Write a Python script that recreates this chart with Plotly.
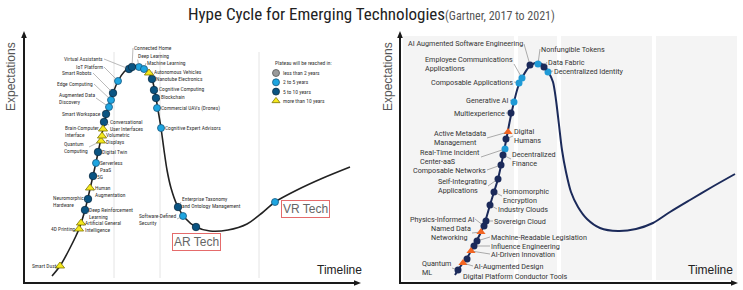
import plotly.graph_objects as go

W, H = 743, 290

# ---------------- data ----------------
title_main = "Hype Cycle for Emerging Technologies"
title_sub = "(Gartner, 2017 to 2021)"
y_title = "Expectations"
x_title = "Timeline"

legend_title = "Plateau will be reached in:"
legend_cats = ["lt2", "2to5", "5to10", "gt10"]
legend_texts = ["less than 2 years", "2 to 5 years", "5 to 10 years", "more than 10 years"]

# left panel (Gartner 2017) : time / expectations
left_curve_t = [28, 36, 46, 55, 61, 66, 71, 75, 79, 83, 88, 94, 100, 106, 113, 119, 124, 128, 131, 134,
                137, 140, 143, 147, 153, 161, 172, 186, 204, 223, 238, 251, 273, 299, 326]
left_curve_e = [7, 17, 35, 54, 73, 94, 116, 135, 154, 171, 187, 202, 211, 215.5, 217.5, 215, 211, 204, 191, 173,
                155, 133, 113, 95, 78, 65, 56, 52, 53, 59, 70, 81, 93, 105, 116]

left_names = ["Smart Dust", "4D Printing", "Artificial General<br>Intelligence", "Deep Reinforcement<br>Learning",
              "Neuromorphic<br>Hardware", "Human<br>Augmentation", "5G", "Serverless<br>PaaS", "Digital Twin",
              "Quantum<br>Computing", "Volumetric<br>Displays", "Brain-Computer<br>Interface",
              "Conversational<br>User Interfaces", "Smart Workspace", "Augmented Data<br>Discovery",
              "Edge Computing", "Smart Robots", "IoT Platform", "Virtual Assistants", "Connected Home",
              "Deep Learning", "Machine Learning", "Autonomous Vehicles", "Nanotube Electronics",
              "Cognitive Computing", "Blockchain", "Commercial UAVs (Drones)", "Cognitive Expert Advisors",
              "Enterprise Taxonomy<br>and Ontology Management", "Software-Defined<br>Security",
              "AR Tech", "VR Tech"]
left_t = [36, 55, 57, 61, 64, 66, 69, 72, 74, 77, 78, 79, 80, 82, 85, 87, 89, 94, 105, 108,
          115, 120, 125, 128, 130, 132, 133, 137, 154, 159, 172, 251]
left_e = [17, 54, 60, 73, 84, 95, 107, 120, 131, 142, 147, 154, 161, 169, 176, 183, 190, 202, 214, 216,
          216, 214, 210, 204, 193, 185, 175, 155, 76, 67, 56, 81]
left_cat = ["gt10", "gt10", "gt10", "5to10", "5to10", "gt10", "5to10", "2to5", "5to10", "gt10", "gt10", "gt10",
            "5to10", "5to10", "2to5", "2to5", "5to10", "2to5", "5to10", "5to10", "2to5", "2to5", "gt10", "5to10",
            "5to10", "5to10", "2to5", "2to5", "5to10", "2to5", "5to10", "2to5"]

# right panel (Gartner 2021)
right_curve_t = [55, 58, 63, 67, 71, 76, 81, 85, 90, 94, 98, 102, 106, 110, 114, 118, 123, 129, 135, 140,
                 145, 149, 153, 156, 159, 162, 166, 171, 178, 187, 200, 218, 236, 253, 270, 290, 312, 335]
right_curve_e = [8, 13, 20, 25, 32, 41, 51, 61, 78, 91, 104, 122, 142, 163, 181, 196, 207, 216, 220, 220,
                 216, 210, 201, 183, 158, 133, 111, 91, 76, 64, 55, 52, 54, 60, 71, 83, 96, 109]

right_names = ["Quantum<br>ML", "AI-Augmented Design", "Digital Platform Conductor Tools", "AI-Driven Innovation",
               "Influence Engineering", "Machine-Readable Legislation", "Named Data<br>Networking",
               "Physics-Informed AI", "Sovereign Cloud", "Industry Clouds", "Homomorphic<br>Encryption",
               "Self-Integrating<br>Applications", "Composable Networks", "Decentralized<br>Finance",
               "Real-Time Incident<br>Center-aaS", "Digital<br>Humans", "Active Metadata<br>Management",
               "Multiexperience", "Generative AI", "Composable Applications",
               "Employee Communications<br>Applications", "AI Augmented Software Engineering",
               "Nonfungible Tokens", "Data Fabric", "Decentralized Identity"]
right_t = [58, 63, 67, 71, 74, 77, 81, 84, 86, 90, 94, 98, 101, 103, 105, 106, 108, 111, 114, 119, 122, 130,
           138, 144, 148]
right_e = [13, 20, 24, 32, 37, 42, 51, 57, 62, 78, 91, 104, 118, 128, 134, 144, 151, 170, 181, 200, 205, 218,
           219, 216, 211]
right_cat = ["5to10", "gt10", "5to10", "gt10", "5to10", "5to10", "gt10", "5to10", "5to10", "5to10", "5to10",
             "5to10", "5to10", "5to10", "2to5", "5to10", "gt10", "5to10", "2to5", "2to5", "2to5", "5to10",
             "2to5", "5to10", "2to5"]

# ---------------- layout helpers / styles ----------------
NARROW = "Liberation Sans Narrow, Arial Narrow, Roboto Condensed, sans-serif"
SANS = "Liberation Sans, Arial, sans-serif"
ROBOTO = "Roboto, Liberation Sans, sans-serif"


def px(x):
    return x / W


def py(y):
    return 1 - y / H


# label placement (pixel offsets from point to text anchor, side of text)
left_label_pos = {
    "Smart Dust": (-2, 0, "l"), "4D Printing": (-3, 0, "l"),
    "Artificial General<br>Intelligence": (3, 3, "r"), "Deep Reinforcement<br>Learning": (3, 3, "r"),
    "Neuromorphic<br>Hardware": (-3, 2, "l"), "Human<br>Augmentation": (4, 3, "r"), "5G": (3, 1, "r"),
    "Serverless<br>PaaS": (3, 3, "r"), "Digital Twin": (3, 0, "r"), "Quantum<br>Computing": (-12, 6, "l"),
    "Volumetric<br>Displays": (3, 2, "r"), "Brain-Computer<br>Interface": (-3, 2, "l"),
    "Conversational<br>User Interfaces": (5, 3, "r"), "Smart Workspace": (-4, 0, "l"),
    "Augmented Data<br>Discovery": (-13, -9, "l"), "Edge Computing": (-17, -16, "l"),
    "Smart Robots": (-20, -20, "l"), "IoT Platform": (-14, -14, "l"), "Virtual Assistants": (-25, -10, "l"),
    "Connected Home": (1, -19, "r"), "Deep Learning": (-2, -11, "r"), "Machine Learning": (2, -6, "r"),
    "Autonomous Vehicles": (4, -1, "r"), "Nanotube Electronics": (3, 0, "r"),
    "Cognitive Computing": (4, -1, "r"), "Blockchain": (4, -1, "r"),
    "Commercial UAVs (Drones)": (3, 0, "r"), "Cognitive Expert Advisors": (3, 0, "r"),
    "Enterprise Taxonomy<br>and Ontology Management": (3, -5, "r"),
    "Software-Defined<br>Security": (-6, 3, "l"),
}
box_label_pos = {"AR Tech": (0, 15, "c"), "VR Tech": (6, 7, "r")}

right_label_pos = {
    "AI Augmented Software Engineering": (-6, -21, "l"), "Nonfungible Tokens": (2, -15, "r"),
    "Data Fabric": (3, -5, "r"), "Decentralized Identity": (5, -1, "r"),
    "Employee Communications<br>Applications": (-8, -14, "l"), "Composable Applications": (-5, -1, "l"),
    "Generative AI": (-4, -2, "l"), "Multiexperience": (-5, 0, "l"),
    "Active Metadata<br>Management": (-21, 6, "l"), "Digital<br>Humans": (7, -3, "r"),
    "Real-Time Incident<br>Center-aaS": (-24, 8, "l"), "Decentralized<br>Finance": (8, 4, "r"),
    "Composable Networks": (-14, 5, "l"), "Self-Integrating<br>Applications": (-10, 7, "l"),
    "Homomorphic<br>Encryption": (8, 4, "r"), "Industry Clouds": (7, 4, "r"),
    "Physics-Informed AI": (-9, -7, "l"), "Sovereign Cloud": (7, 0, "r"),
    "Named Data<br>Networking": (-9, 1, "l"), "Machine-Readable Legislation": (13, -4, "r"),
    "Influence Engineering": (16, 0, "r"), "AI-Driven Innovation": (19, 3, "r"),
    "AI-Augmented Design": (10, 3, "r"), "Quantum<br>ML": (-6, -2, "l"),
    "Digital Platform Conductor Tools": (-5, 17, "r"),
}
no_leader = {"Digital Platform Conductor Tools"}

left_style = {
    "lt2": dict(color="#9a9a9a", symbol="circle", size=7, line=dict(color="#555", width=0.8)),
    "2to5": dict(color="#1ea5e0", symbol="circle", size=7, line=dict(color="#17587f", width=0.8)),
    "5to10": dict(color="#0a5482", symbol="circle", size=7.5, line=dict(color="#0b2d45", width=0.8)),
    "gt10": dict(color="#f5e81c", symbol="triangle-up", size=8, line=dict(color="#7d7300", width=0.8)),
}
right_style = {
    "2to5": dict(color="#1f9ad6", symbol="circle", size=7, line=dict(width=0)),
    "5to10": dict(color="#1b2a5a", symbol="circle", size=7, line=dict(width=0)),
    "gt10": dict(color="#f26522", symbol="triangle-up", size=8, line=dict(width=0)),
}

fig = go.Figure()

# right panel background columns
for x0, x1 in [(403, 514), (518, 557), (561, 652), (656, 737)]:
    fig.add_shape(type="rect", xref="paper", yref="paper", x0=px(x0), x1=px(x1), y0=py(280), y1=py(36),
                  line=dict(width=0), fillcolor="#f4f4f4", layer="below")
# left panel phase separators
for xx in [114, 160, 259]:
    fig.add_shape(type="line", xref="paper", yref="paper", x0=px(xx), x1=px(xx), y0=py(278), y1=py(52),
                  line=dict(color="#e4e4e4", width=1), layer="below")

# axes arrows
def arrow_axes(x0, x1, ytop, ybot):
    fig.add_shape(type="line", xref="paper", yref="paper", x0=px(x0), x1=px(x0), y0=py(ybot), y1=py(ytop + 5),
                  line=dict(color="#1a1a1a", width=2))
    fig.add_shape(type="path", xref="paper", yref="paper",
                  path=f"M {px(x0-2.8)},{py(ytop+7)} L {px(x0)},{py(ytop)} L {px(x0+2.8)},{py(ytop+7)} Z",
                  fillcolor="#1a1a1a", line=dict(width=0))
    fig.add_shape(type="line", xref="paper", yref="paper", x0=px(x0 - 1), x1=px(x1 - 5), y0=py(ybot), y1=py(ybot),
                  line=dict(color="#1a1a1a", width=2))
    fig.add_shape(type="path", xref="paper", yref="paper",
                  path=f"M {px(x1-7)},{py(ybot-2.8)} L {px(x1)},{py(ybot)} L {px(x1-7)},{py(ybot+2.8)} Z",
                  fillcolor="#1a1a1a", line=dict(width=0))

arrow_axes(24, 361, 31, 283)
arrow_axes(400, 738, 31, 283)

# curves
fig.add_trace(go.Scatter(x=left_curve_t, y=left_curve_e, mode="lines", line=dict(color="#222", width=1.6, shape="spline", smoothing=0.8),
                         xaxis="x", yaxis="y", hoverinfo="skip", showlegend=False))
fig.add_trace(go.Scatter(x=right_curve_t, y=right_curve_e, mode="lines", line=dict(color="#1b2a5a", width=2, shape="spline", smoothing=0.8),
                         xaxis="x2", yaxis="y2", hoverinfo="skip", showlegend=False))

# markers
for cat, st in left_style.items():
    idx = [i for i, c in enumerate(left_cat) if c == cat]
    if not idx:
        continue
    fig.add_trace(go.Scatter(x=[left_t[i] for i in idx], y=[left_e[i] for i in idx], mode="markers",
                             marker=st, xaxis="x", yaxis="y", hoverinfo="skip", showlegend=False, cliponaxis=False))
for cat, st in right_style.items():
    idx = [i for i, c in enumerate(right_cat) if c == cat]
    fig.add_trace(go.Scatter(x=[right_t[i] for i in idx], y=[right_e[i] for i in idx], mode="markers",
                             marker=st, xaxis="x2", yaxis="y2", hoverinfo="skip", showlegend=False, cliponaxis=False))

# legend key (left panel)
LEG_X, LEG_Y0, LEG_STEP = 252, 210, 9.3
fig.add_trace(go.Scatter(x=[LEG_X] * 4, y=[LEG_Y0 - i * LEG_STEP for i in range(4)], mode="markers",
                         marker=dict(color=[left_style[c]["color"] for c in legend_cats],
                                     symbol=[left_style[c]["symbol"] for c in legend_cats],
                                     size=7, line=dict(color=[left_style[c]["line"]["color"] for c in legend_cats], width=0.8)),
                         xaxis="x", yaxis="y", hoverinfo="skip", showlegend=False))
ann = []
ann.append(dict(x=LEG_X - 3, y=LEG_Y0 + 10, xref="x", yref="y", text=legend_title, showarrow=False,
                xanchor="left", yanchor="middle", font=dict(family=NARROW, size=5.5, color="#333")))
for i, t in enumerate(legend_texts):
    ann.append(dict(x=LEG_X + 5, y=LEG_Y0 - i * LEG_STEP, xref="x", yref="y", text=t, showarrow=False,
                    xanchor="left", yanchor="middle", font=dict(family=NARROW, size=5.5, color="#333")))

# point labels
def add_labels(names, ts, es, pos, xr, yr, font, lcolor, lwidth):
    for n, t, e in zip(names, ts, es):
        if n not in pos:
            continue
        dx, dy, side = pos[n]
        xa = {"l": "right", "r": "left", "c": "center"}[side]
        ann.append(dict(x=t, y=e, xref=xr, yref=yr, text=n, showarrow=True, ax=dx, ay=dy,
                        xanchor=xa, yanchor="middle", align="left", font=font,
                        arrowhead=0, arrowwidth=lwidth, standoff=3,
                        arrowcolor=("rgba(0,0,0,0)" if n in no_leader else lcolor), borderpad=0))

add_labels(left_names, left_t, left_e, left_label_pos, "x", "y",
           dict(family=NARROW, size=5.5, color="#333"), "#8c8c8c", 0.6)
add_labels(right_names, right_t, right_e, right_label_pos, "x2", "y2",
           dict(family=ROBOTO, size=7.2, color="#333"), "#777", 0.6)

for n, t, e in zip(left_names, left_t, left_e):
    if n in box_label_pos:
        dx, dy, side = box_label_pos[n]
        ann.append(dict(x=t, y=e, xref="x", yref="y", text=n, showarrow=False, xshift=dx, yshift=-dy,
                        xanchor={"c": "center", "r": "left"}[side], yanchor="middle",
                        font=dict(family=SANS, size=12, color="#666"),
                        bordercolor="#e56b6b", borderwidth=1, borderpad=1, bgcolor="white"))

# titles
ann.append(dict(x=0.5, y=py(14), xref="paper", yref="paper", showarrow=False, xanchor="center", yanchor="middle",
                text=f"{title_main}<span style='font-size:12px;color:#555'>{title_sub}</span>",
                font=dict(family=NARROW, size=17, color="#222")))
for xx in [11, 388]:
    ann.append(dict(x=px(xx), y=py(77), xref="paper", yref="paper", showarrow=False, textangle=-90,
                    text=y_title, font=dict(family=SANS, size=12, color="#555"), xanchor="center", yanchor="middle"))
for xx in [339, 710]:
    ann.append(dict(x=px(xx), y=py(270), xref="paper", yref="paper", showarrow=False,
                    text=x_title, font=dict(family=SANS, size=12, color="#222"), xanchor="center", yanchor="middle"))

ax_common = dict(visible=False, fixedrange=True, showgrid=False, zeroline=False)
fig.update_layout(
    width=W, height=H, margin=dict(l=0, r=0, t=0, b=0),
    paper_bgcolor="white", plot_bgcolor="rgba(0,0,0,0)",
    xaxis=dict(domain=[px(24), px(372)], range=[0, 348], anchor="y", **ax_common),
    yaxis=dict(domain=[py(283), py(31)], range=[0, 252], anchor="x", **ax_common),
    xaxis2=dict(domain=[px(400), px(740)], range=[0, 340], anchor="y2", **ax_common),
    yaxis2=dict(domain=[py(283), py(31)], range=[0, 252], anchor="x2", **ax_common),
    annotations=ann, showlegend=False,
)

fig.write_html("out.html")
